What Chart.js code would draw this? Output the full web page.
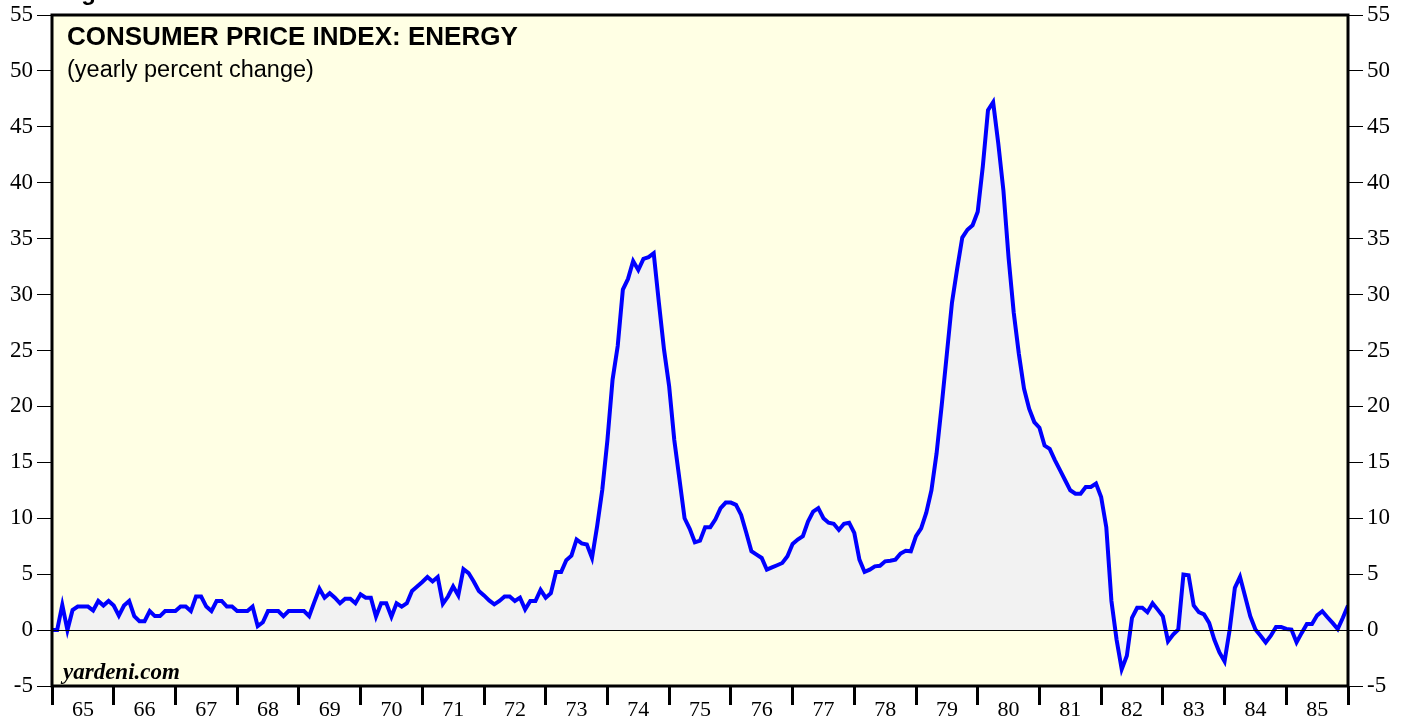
<!DOCTYPE html>
<html>
<head>
<meta charset="utf-8">
<script src="https://cdn.jsdelivr.net/npm/chart.js@4.4.1/dist/chart.umd.min.js"></script>
<style>
  html, body { margin: 0; padding: 0; background: #ffffff; }
  #wrap { width: 1407px; height: 719px; }
</style>
</head>
<body>
<div id="wrap"><canvas id="cpi-chart" width="1407" height="719"></canvas></div>
<script>
// monthly, Jan 1965 .. Jan 1986
var startYear = 1965;
var yearLabels = ["65","66","67","68","69","70","71","72","73","74","75",
                  "76","77","78","79","80","81","82","83","84","85"];
var yTicks = [-5, 0, 5, 10, 15, 20, 25, 30, 35, 40, 45, 50, 55];

// yearly percent change, one value per month
var energyCpi = [
    0, 0, 2.25, 0, 1.8, 2.1, 2.1, 2.1, 1.75, 2.6, 2.2, 2.6,
    2.2, 1.3, 2.2, 2.6, 1.25, 0.8, 0.8, 1.7, 1.25, 1.25, 1.7, 1.7,
    1.7, 2.1, 2.1, 1.7, 3.0, 3.0, 2.1, 1.7, 2.6, 2.6, 2.1, 2.1,
    1.7, 1.7, 1.7, 2.1, 0.35, 0.7, 1.7, 1.7, 1.7, 1.25, 1.7, 1.7,
    1.7, 1.7, 1.25, 2.5, 3.7, 2.9, 3.3, 2.9, 2.4, 2.8, 2.8, 2.4,
    3.2, 2.9, 2.9, 1.2, 2.4, 2.4, 1.2, 2.4, 2.1, 2.4, 3.5, 3.9,
    4.3, 4.75, 4.35, 4.75, 2.35, 3.0, 3.9, 3.1, 5.45, 5.1, 4.35, 3.5,
    3.1, 2.65, 2.3, 2.6, 3.0, 3.0, 2.6, 2.9, 1.85, 2.6, 2.6, 3.6,
    2.9, 3.3, 5.2, 5.2, 6.25, 6.65, 8.1, 7.75, 7.65, 6.45, 9.3, 12.55,
    17.0, 22.4, 25.4, 30.45, 31.4, 33.0, 32.2, 33.2, 33.35, 33.7, 29.3, 25.1,
    21.8, 17.0, 13.5, 10.0, 9.05, 7.85, 8.0, 9.2, 9.2, 9.9, 10.9, 11.4,
    11.4, 11.2, 10.3, 8.7, 7.05, 6.75, 6.45, 5.4, 5.6, 5.8, 6.0, 6.6,
    7.7, 8.1, 8.4, 9.7, 10.6, 10.9, 10.0, 9.6, 9.5, 8.95, 9.5, 9.6,
    8.7, 6.3, 5.2, 5.4, 5.7, 5.75, 6.15, 6.2, 6.3, 6.85, 7.1, 7.05,
    8.4, 9.1, 10.5, 12.5, 15.8, 20.1, 24.7, 29.3, 32.3, 35.1, 35.8, 36.2,
    37.4, 41.5, 46.5, 47.2, 43.5, 39.3, 33.3, 28.4, 24.7, 21.6, 19.8, 18.6,
    18.1, 16.5, 16.2, 15.2, 14.3, 13.4, 12.5, 12.2, 12.2, 12.8, 12.8, 13.1,
    11.9, 9.2, 2.6, -0.85, -3.5, -2.3, 1.1, 2.0, 2.0, 1.6, 2.4, 1.83,
    1.23, -1.0, -0.4, 0.05, 4.96, 4.9, 2.2, 1.6, 1.4, 0.64, -0.85, -2.0,
    -2.8, 0.05, 3.77, 4.76, 3.0, 1.23, 0.05, -0.5, -1.1, -0.5, 0.28, 0.28,
    0.1, 0.05, -1.1, -0.25, 0.55, 0.55, 1.32, 1.68, 1.15, 0.64, 0.1, 1.1,
    2.2
];

var serif = "'Liberation Serif', 'Times New Roman', serif";
var sans = "'Liberation Sans', Arial, sans-serif";

var points = [];
for (var i = 0; i < energyCpi.length; i++)
    points.push({x: i, y: energyCpi[i]});

var lastMonth = yearLabels.length * 12;

// paper colour, frame, zero line and the texts
var paperPlugin = {
    id: 'paper',
    beforeDraw: function(chart) {
        var ctx = chart.ctx, a = chart.chartArea;
        ctx.save();
        ctx.fillStyle = "#FFFFE4";
        ctx.fillRect(a.left, a.top, a.right - a.left, a.bottom - a.top);
        ctx.restore();
    },
    afterDatasetsDraw: function(chart) {
        var ctx = chart.ctx, a = chart.chartArea;
        var y0 = Math.round(chart.scales.y.getPixelForValue(0)) + 0.5;
        ctx.save();
        ctx.strokeStyle = "#000";
        ctx.lineWidth = 1;
        ctx.beginPath();
        ctx.moveTo(a.left, y0);
        ctx.lineTo(a.right, y0);
        ctx.stroke();
        ctx.restore();
    },
    afterDraw: function(chart) {
        var ctx = chart.ctx, a = chart.chartArea;
        ctx.save();
        ctx.strokeStyle = "#000";
        ctx.lineWidth = 3;
        ctx.strokeRect(a.left, a.top, a.right - a.left, a.bottom - a.top);

        ctx.fillStyle = "#000";
        ctx.textBaseline = "alphabetic";
        ctx.font = "bold 24px " + sans;
        ctx.fillText("Figure", 60, 0);
        ctx.font = "bold 26px " + sans;
        ctx.fillText("CONSUMER PRICE INDEX: ENERGY", 67, 45);
        ctx.font = "23.5px " + sans;
        ctx.fillText("(yearly percent change)", 67, 77);
        ctx.font = "italic bold 23px " + serif;
        ctx.fillText("yardeni.com", 63, 679);
        ctx.restore();
    }
};

function yAxis(pos, w) {
    return {
        type: 'linear',
        position: pos,
        min: -5,
        max: 55,
        afterBuildTicks: function(scale) {
            scale.ticks = yTicks.map(function(v) { return {value: v}; });
        },
        afterFit: function(scale) {
            scale.width = w;
            scale.paddingTop = 0;
            scale.paddingBottom = 0;
        },
        border: { display: false },
        grid: {
            drawOnChartArea: false,
            drawTicks: true,
            tickLength: 15,
            tickColor: "#000",
            lineWidth: 1
        },
        ticks: {
            color: "#000",
            padding: 4,
            font: { family: serif, size: 23 }
        }
    };
}

var chartCanvas = document.getElementById("cpi-chart");
var cpiChart = new Chart(chartCanvas, {
    type: 'line',
    data: {
        datasets: [{
            label: "CPI energy",
            data: points,
            borderColor: "#0000FF",
            borderWidth: 4,
            pointRadius: 0,
            tension: 0,
            fill: { target: 'origin', above: "#F2F2F2", below: "#F2F2F2" }
        }]
    },
    options: {
        responsive: false,
        animation: false,
        layout: { padding: { top: 15, left: 0, right: 0, bottom: 0 } },
        plugins: {
            legend: { display: false },
            tooltip: { enabled: false }
        },
        scales: {
            x: {
                type: 'linear',
                min: 0,
                max: lastMonth,
                afterBuildTicks: function(scale) {
                    var t = [];
                    for (var k = 0; k <= yearLabels.length; k++) t.push({value: k * 12});
                    scale.ticks = t;
                },
                afterFit: function(scale) { scale.height = 33; },
                border: { display: false },
                grid: {
                    drawOnChartArea: false,
                    drawTicks: true,
                    tickLength: 19,
                    tickColor: "#000",
                    tickWidth: 3,
                    lineWidth: 3
                },
                ticks: {
                    autoSkip: false,
                    maxRotation: 0,
                    color: "#000",
                    padding: -8,
                    labelOffset: 30.9,
                    font: { family: serif, size: 22 },
                    callback: function(value) {
                        var k = Math.round(value / 12);
                        return k < yearLabels.length ? yearLabels[k] : "";
                    }
                }
            },
            y: yAxis('left', 52),
            y2: yAxis('right', 59)
        }
    },
    plugins: [paperPlugin]
});
</script>
</body>
</html>
